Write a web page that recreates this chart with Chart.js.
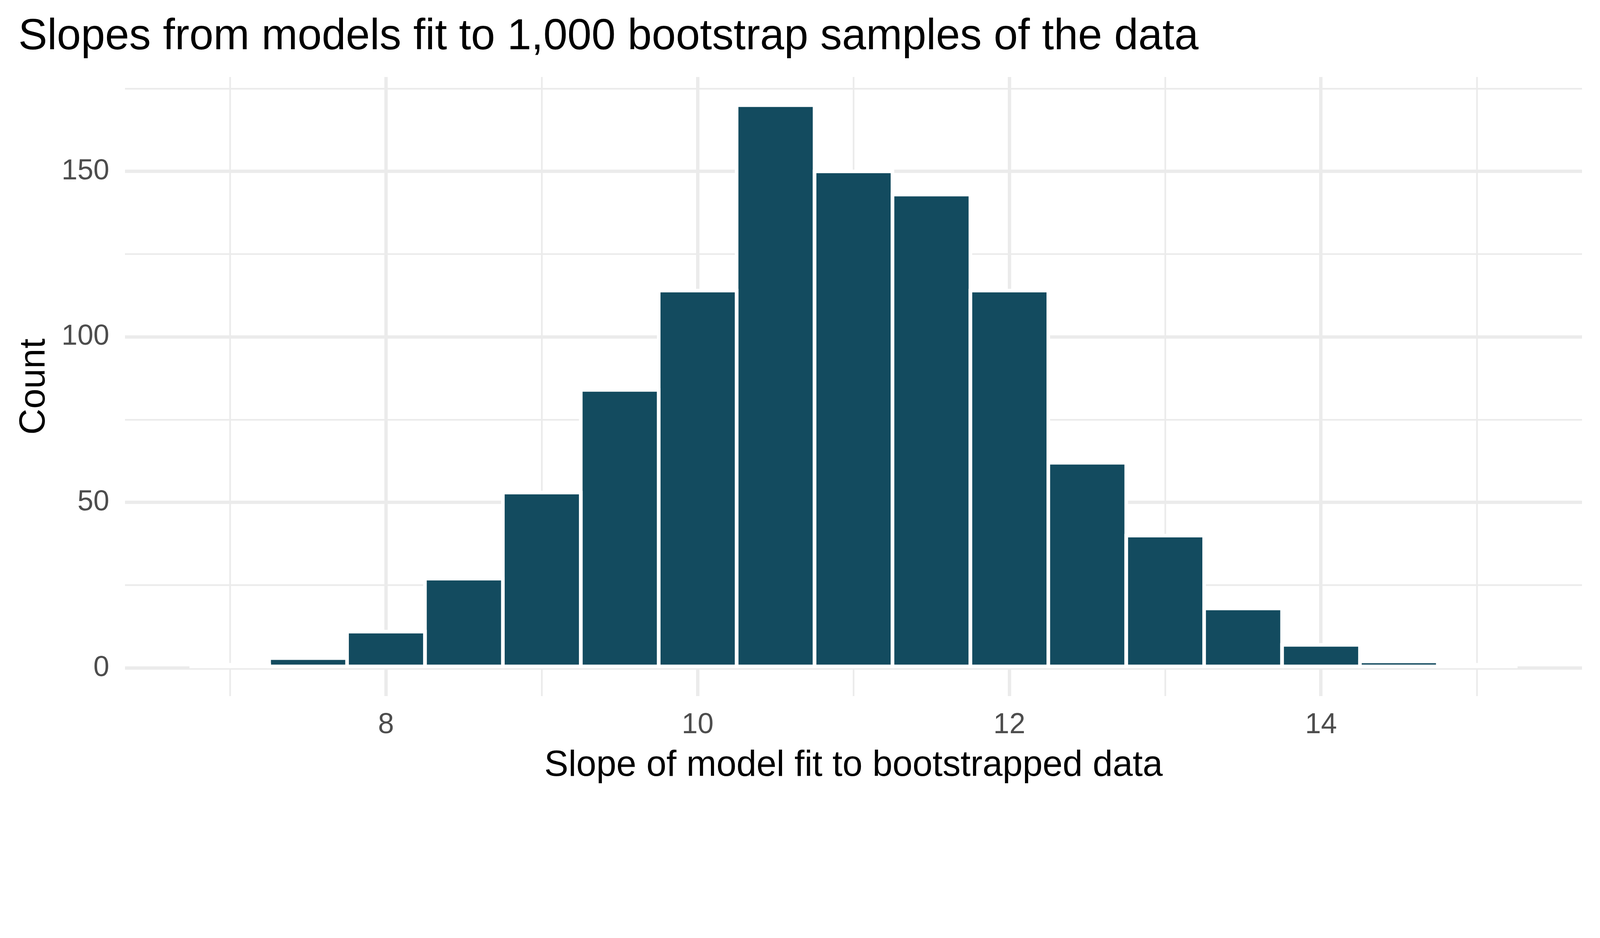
<!DOCTYPE html>
<html>
<head>
<meta charset="utf-8">
<script src="https://cdn.jsdelivr.net/npm/chart.js@4.4.1/dist/chart.umd.min.js"></script>
<style>
  html, body { margin: 0; padding: 0; background: #ffffff; overflow: hidden; }
  #wrap { position: absolute; left: 0; top: 0; }
  canvas { display: block; }
</style>
</head>
<body>
<div id="wrap"><canvas id="c"></canvas></div>
<script>
// ---- data ----
const binCenters = [7, 7.5, 8, 8.5, 9, 9.5, 10, 10.5, 11, 11.5, 12, 12.5, 13, 13.5, 14, 14.5, 15];
const counts     = [1, 3, 11, 27, 53, 84, 114, 170, 150, 143, 114, 62, 40, 18, 7, 2, 1];
const xGridValues = [7, 8, 9, 10, 11, 12, 13, 14, 15];
const xTickLabels = ['', '8', '', '10', '', '12', '', '14', ''];
const yGridValues = [0, 25, 50, 75, 100, 125, 150, 175];
const yTickLabels = ['0', '', '50', '', '100', '', '150', ''];
const titleText = 'Slopes from models fit to 1,000 bootstrap samples of the data';
const xTitle = 'Slope of model fit to bootstrapped data';
const yTitle = 'Count';

// ---- style (sizes given for a 4800 x 2400 picture, scaled to the window) ----
const W = window.innerWidth, H = window.innerHeight;
const S = Math.min(W / 4800, H / 2400);
const px = (v) => v * S;
const wrap = document.getElementById('wrap');
wrap.style.width = (4800 * S) + 'px';
wrap.style.height = (2400 * S) + 'px';
const FONT = '"Liberation Sans", Arial, Helvetica, sans-serif';
const BAR_COLOR = '#134B5F';
const GRID_COLOR = '#EBEBEB';

// white outline drawn centred on each bar's edges (like ggplot's colour = "white")
const barOutline = {
  id: 'barOutline',
  afterDatasetsDraw(chart) {
    const ctx = chart.ctx;
    const meta = chart.getDatasetMeta(0);
    ctx.save();
    ctx.strokeStyle = '#ffffff';
    ctx.lineWidth = px(10) + 0.6;
    ctx.lineJoin = 'miter';
    meta.data.forEach(el => {
      const p = el.getProps(['x', 'y', 'base', 'width'], true);
      const left = p.x - p.width / 2;
      const top = Math.min(p.y, p.base);
      const h = Math.abs(p.base - p.y);
      ctx.strokeRect(left, top, p.width, h);
    });
    ctx.restore();
  }
};

new Chart(document.getElementById('c'), {
  type: 'bar',
  data: {
    datasets: [{
      data: binCenters.map((x, i) => ({ x: x, y: counts[i] })),
      backgroundColor: BAR_COLOR,
      borderWidth: 0,
      categoryPercentage: 1.0,
      barPercentage: 1.0
    }]
  },
  options: {
    responsive: true,
    maintainAspectRatio: false,
    animation: false,
    layout: { padding: { left: px(55), right: px(54), top: 0, bottom: 0 } },
    plugins: {
      legend: { display: false },
      tooltip: { enabled: false },
      title: {
        display: true,
        text: titleText,
        align: 'start',
        color: '#000000',
        font: { family: FONT, size: px(130), weight: 'normal', lineHeight: 1.2 },
        padding: { top: px(34), bottom: px(41) }
      }
    },
    scales: {
      x: {
        type: 'linear',
        min: 6.325,
        max: 15.675,
        offset: false,
        afterBuildTicks: (scale) => { scale.ticks = xGridValues.map(v => ({ value: v })); },
        afterFit: (scale) => { scale.height = px(312.5); },
        ticks: {
          callback: (v, i) => xTickLabels[i],
          color: '#4D4D4D',
          font: { family: FONT, size: px(86), lineHeight: 1.2 },
          padding: px(36),
          autoSkip: false,
          maxRotation: 0,
          minRotation: 0
        },
        grid: {
          offset: false,
          color: GRID_COLOR,
          lineWidth: (ctx) => (xTickLabels[ctx.index] ? px(10) : px(5)),
          drawTicks: false
        },
        border: { display: false },
        title: {
          display: true,
          text: xTitle,
          color: '#000000',
          font: { family: FONT, size: px(108), lineHeight: 1.2 },
          padding: { top: 0, bottom: px(39) }
        }
      },
      y: {
        type: 'linear',
        min: -8.5,
        max: 178.5,
        afterBuildTicks: (scale) => { scale.ticks = yGridValues.map(v => ({ value: v })); },
        afterFit: (scale) => { scale.width = px(320); },
        ticks: {
          callback: (v, i) => yTickLabels[i],
          color: '#4D4D4D',
          font: { family: FONT, size: px(86), lineHeight: 1.2 },
          padding: px(47),
          autoSkip: false
        },
        grid: {
          color: GRID_COLOR,
          lineWidth: (ctx) => (yTickLabels[ctx.index] ? px(10) : px(5)),
          drawTicks: false
        },
        border: { display: false },
        title: {
          display: true,
          text: yTitle,
          color: '#000000',
          font: { family: FONT, size: px(108), lineHeight: 1.2 },
          padding: { top: px(-15.6), bottom: 0 }
        }
      }
    }
  },
  plugins: [barOutline]
});
</script>
</body>
</html>
